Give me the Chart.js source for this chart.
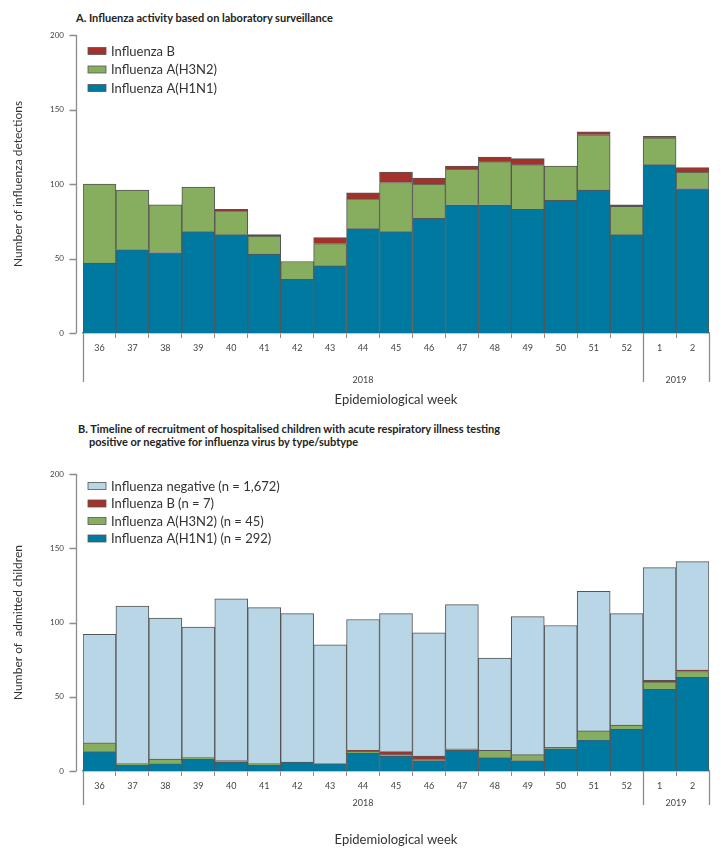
<!DOCTYPE html>
<html>
<head>
<meta charset="utf-8">
<script src="https://cdn.jsdelivr.net/npm/chart.js@4.4.0/dist/chart.umd.min.js"></script>
<style>
  body { margin: 0; background: #fff; width: 725px; height: 855px; position: relative; overflow: hidden; font-family: Lato, sans-serif; }
  .title { position: absolute; font-weight: bold; font-size: 11px; color: #222; line-height: 13px; }
  canvas { position: absolute; left: 0; }
</style>
</head>
<body>
<div class="title" style="left:76px; top:11px;">A. Influenza activity based on laboratory surveillance</div>
<canvas id="chartA" width="725" height="415" style="top:0;"></canvas>
<div class="title" style="left:78px; top:422px;">B. Timeline of recruitment of hospitalised children with acute respiratory illness testing<br><span style="padding-left:11px;">positive or negative for influenza virus by type/subtype</span></div>
<canvas id="chartB" width="725" height="440" style="top:415px;"></canvas>

<script>
// epidemiological weeks, 2018 w36 -> 2019 w2
var weeks = ['36','37','38','39','40','41','42','43','44','45','46','47','48','49','50','51','52','1','2'];
var years = ['2018', '2019'];
var yearStart = [0, 17];   // index of first week in each year

// A. laboratory surveillance
var labH1N1 = [47,56,54,68,66,53,36,45,70,68,77,86,86,83,89,96,66,113,97];
var labH3N2 = [53,40,32,30,16,12,12,15,20,33,23,24,29,30,23,37,19,18,11];
var labB    = [0,0,0,0,1,1,0,4,4,7,4,2,3,4,0,2,1,1,3];

// B. hospitalised children
var hospH1N1 = [13,4,5,8,6,4,6,5,12,10,7,14,9,7,15,21,28,55,63];
var hospH3N2 = [6,1,3,1,1,1,0,0,1,1,1,1,5,4,1,6,3,5,4];
var hospB    = [0,0,0,0,0,0,0,0,1,2,2,0,0,0,0,0,0,1,1];
var hospNeg  = [73,106,95,88,109,105,100,80,88,93,83,97,62,93,82,94,75,76,73];

var yTicks = [0, 50, 100, 150, 200];

var cBlue = '#0079a1', cGreen = '#87ae5e', cRed = '#a4312a', cLight = '#b8d6e5';
var edge = '#555555', axisGrey = '#8c8c8c', txt = '#444';
var FONT = 'Lato, sans-serif';

// y axis set off from the bars, year rows under the weeks, legend inside the plot
var decor = {
  id: 'decor',
  afterDraw: function(chart, args, opts) {
    var ctx = chart.ctx, x = chart.scales.x, y = chart.scales.y, area = chart.chartArea;
    ctx.save();
    ctx.strokeStyle = axisGrey;
    ctx.lineWidth = 1.3;

    var ax = area.left - 6.5;
    ctx.beginPath();
    ctx.moveTo(ax, y.getPixelForValue(y.max));
    ctx.lineTo(ax, y.getPixelForValue(0));
    y.ticks.forEach(function(t) {
      var py = Math.round(y.getPixelForValue(t.value)) + 0.5;
      ctx.moveTo(ax - 7, py);
      ctx.lineTo(ax, py);
    });
    ctx.stroke();

    var half = (x.getPixelForValue(1) - x.getPixelForValue(0)) / 2;
    var edges = yearStart.map(function(i) { return x.getPixelForValue(i) - half; });
    edges.push(x.getPixelForValue(weeks.length - 1) + half);
    ctx.beginPath();
    edges.forEach(function(e) {
      var ex = Math.round(e) + 0.5;
      ctx.moveTo(ex, area.bottom);
      ctx.lineTo(ex, area.bottom + opts.drop);
    });
    ctx.stroke();

    ctx.fillStyle = txt;
    ctx.font = '9px ' + FONT;
    ctx.textAlign = 'center';
    ctx.textBaseline = 'middle';
    years.forEach(function(yr, i) {
      ctx.fillText(yr, (edges[i] + edges[i + 1]) / 2, area.bottom + opts.drop - 2);
    });

    // legend, top item = top of stack
    var ds = chart.data.datasets.slice().reverse();
    ctx.textAlign = 'left';
    ctx.font = '13px ' + FONT;
    ctx.lineWidth = 0.8;
    ds.forEach(function(d, i) {
      var ry = area.top + opts.legendTop + i * opts.legendGap;
      ctx.fillStyle = d.backgroundColor;
      ctx.fillRect(area.left + 5, ry - 3.5, 18, 7);
      ctx.strokeStyle = edge;
      ctx.strokeRect(area.left + 5, ry - 3.5, 18, 7);
      ctx.fillStyle = '#333';
      ctx.fillText(d.label, area.left + 28, ry + 0.5);
    });
    ctx.restore();
  }
};

function bar(label, data, color) {
  return {
    label: label, data: data, backgroundColor: color,
    borderColor: edge, borderWidth: 1, borderSkipped: 'start',
    barPercentage: 1, categoryPercentage: 1
  };
}

function opts(yTitle, xHeight, titlePad, decorOpts) {
  return {
    responsive: false,
    animation: false,
    devicePixelRatio: 1,
    layout: { padding: { left: 0, right: 16, top: 0, bottom: 0 } },
    plugins: { legend: { display: false }, tooltip: { enabled: false }, decor: decorOpts },
    scales: {
      x: {
        stacked: true,
        afterFit: function(s) { s.height = xHeight; },
        border: { color: axisGrey, width: 1.6 },
        grid: { offset: true, drawOnChartArea: false, drawTicks: true, tickLength: 5, color: axisGrey },
        ticks: { color: txt, font: { family: FONT, size: 9 }, padding: 5, maxRotation: 0, autoSkip: false },
        title: { display: true, text: 'Epidemiological week', color: '#333',
                 font: { family: FONT, size: 13 }, padding: { top: 0, bottom: titlePad } }
      },
      y: {
        stacked: true,
        min: 0, max: 200,
        afterFit: function(s) { s.width = 83; },
        afterBuildTicks: function(s) { s.ticks = yTicks.map(function(v) { return { value: v }; }); },
        border: { display: false },
        grid: { display: false, drawTicks: false },
        ticks: { color: txt, font: { family: FONT, size: 8 }, padding: 19 },
        title: { display: true, text: yTitle, color: '#333',
                 font: { family: FONT, size: 12 }, padding: { top: 11, bottom: 0 } }
      }
    }
  };
}

var chartA = new Chart(document.getElementById('chartA'), {
  type: 'bar',
  data: {
    labels: weeks,
    datasets: [
      bar('Influenza A(H1N1)', labH1N1, cBlue),
      bar('Influenza A(H3N2)', labH3N2, cGreen),
      bar('Influenza B', labB, cRed)
    ]
  },
  options: (function() {
    var o = opts('Number of influenza detections', 82, 7, { drop: 49, legendTop: 16, legendGap: 18.5 });
    o.layout.padding.top = 35;
    return o;
  })(),
  plugins: [decor]
});

var chartB = new Chart(document.getElementById('chartB'), {
  type: 'bar',
  data: {
    labels: weeks,
    datasets: [
      bar('Influenza A(H1N1) (n = 292)', hospH1N1, cBlue),
      bar('Influenza A(H3N2) (n = 45)', hospH3N2, cGreen),
      bar('Influenza B (n = 7)', hospB, cRed),
      bar('Influenza negative (n = 1,672)', hospNeg, cLight)
    ]
  },
  options: (function() {
    var o = opts('Number of  admitted children', 84, 7, { drop: 34, legendTop: 12, legendGap: 17.5 });
    o.layout.padding.top = 59;
    return o;
  })(),
  plugins: [decor]
});
</script>
</body>
</html>
